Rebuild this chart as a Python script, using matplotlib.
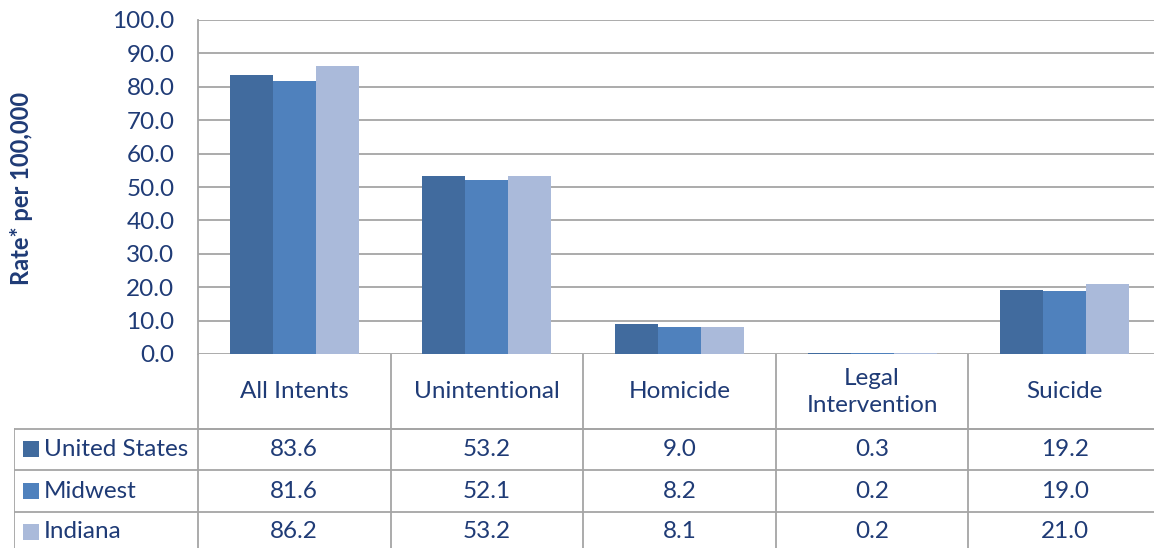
import matplotlib.pyplot as plt
import numpy as np

categories = ['All Intents', 'Unintentional', 'Homicide', 'Legal\nIntervention', 'Suicide']
series = ['United States', 'Midwest', 'Indiana']
us_vals = [83.6, 53.2, 9.0, 0.3, 19.2]
midwest_vals = [81.6, 52.1, 8.2, 0.2, 19.0]
indiana_vals = [86.2, 53.2, 8.1, 0.2, 21.0]
y_ticks = [0, 10, 20, 30, 40, 50, 60, 70, 80, 90, 100]

colors = ['#416B9E', '#4F81BD', '#AABADA']
text_col = '#1F3B76'
grid_col = '#A5A5A5'
plt.rcParams['font.family'] = ['Lato', 'DejaVu Sans']

W, H = 1154, 548
fig = plt.figure(figsize=(W / 100, H / 100), dpi=100)

# plot area in pixels (right edge runs past the picture, as in the source)
px_l, px_r, px_t, px_b = 198, 1161, 20, 354
ax = fig.add_axes([px_l / W, 1 - px_b / H, (px_r - px_l) / W, (px_b - px_t) / H])

x = np.arange(len(categories))
bw = 0.223
all_vals = [us_vals, midwest_vals, indiana_vals]
for i, vals in enumerate(all_vals):
    ax.bar(x + (i - 1) * bw, vals, width=bw, color=colors[i], edgecolor='none', zorder=3)

ax.set_xlim(-0.5, len(categories) - 0.5)
ax.set_ylim(0, 100)
ax.set_yticks(y_ticks)
ax.set_yticklabels([f'{v:.1f}' for v in y_ticks], color=text_col, fontsize=17.5)
ax.tick_params(axis='y', length=0, pad=17)
ax.set_xticks([])
ax.grid(axis='y', color=grid_col, linewidth=1.3, zorder=0)
for s in ['top', 'right', 'bottom']:
    ax.spines[s].set_visible(False)
ax.spines['left'].set_color(grid_col)
ax.spines['left'].set_linewidth(1.3)

fig.text(22 / W, 1 - 188 / H, 'Rate* per 100,000', rotation=90, ha='center', va='center',
         fontsize=17, fontweight='bold', color=text_col)

# data table below the plot, sharing the category positions
px_tl = 14
unit = (px_r - px_l) / len(categories)
x0 = -0.5 - (px_l - px_tl) / unit
tab = fig.add_axes([px_tl / W, 0, (px_r - px_tl) / W, (H - px_b) / H])
tab.set_xlim(x0, len(categories) - 0.5)
tab.set_ylim(H, px_b)
tab.axis('off')

row_edges = [px_b, 429, 470, 512, 554]
lw = 1.3
# horizontal lines
tab.plot([-0.5, len(categories) - 0.5], [row_edges[1]] * 2, color=grid_col, lw=lw)
for yy in row_edges[1:4]:
    tab.plot([x0, len(categories) - 0.5], [yy] * 2, color=grid_col, lw=lw)
# vertical lines
tab.plot([x0, x0], [row_edges[1], H], color=grid_col, lw=lw)
for k in range(len(categories) + 1):
    tab.plot([k - 0.5] * 2, [px_b, H], color=grid_col, lw=lw)

for k, c in enumerate(categories):
    tab.text(k, 392, c, ha='center', va='center', fontsize=17.5, color=text_col, linespacing=1.3)

row_centers = [449, 491, 532]
for r, (name, vals) in enumerate(zip(series, all_vals)):
    yc = row_centers[r]
    tab.scatter([x0 + 17 / unit], [yc], marker='s', s=120, color=colors[r], linewidths=0)
    tab.text(x0 + 30 / unit, yc, name, ha='left', va='center', fontsize=17.5, color=text_col)
    for k, v in enumerate(vals):
        tab.text(k, yc, f'{v:.1f}', ha='center', va='center', fontsize=17.5, color=text_col)

fig.savefig('out.png', dpi=100)
